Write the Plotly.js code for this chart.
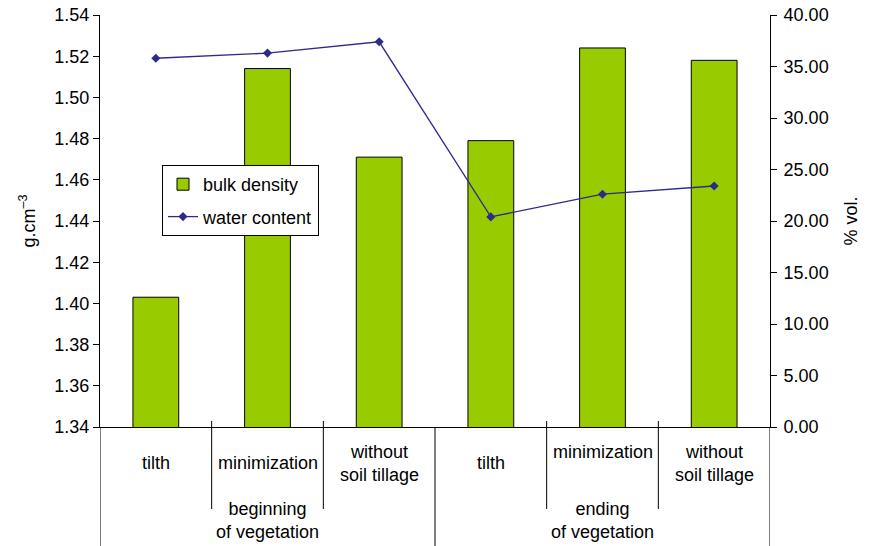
<!DOCTYPE html>
<html><head><meta charset="utf-8">
<script src="https://cdn.plot.ly/plotly-3.0.1.min.js"></script>
<style>html,body{margin:0;padding:0;background:#fff}#c{width:870px;height:546px}</style>
</head><body><div id="c"></div>
<script>
const groups = ["beginning<br>of vegetation", "ending<br>of vegetation"];
const categories = ["tilth", "minimization", "without<br>soil tillage", "tilth", "minimization", "without<br>soil tillage"];
const groupOf = [0, 0, 0, 1, 1, 1];
const bulkDensity = [1.403, 1.514, 1.471, 1.479, 1.524, 1.518];
const waterContent = [35.8, 36.3, 37.4, 20.4, 22.6, 23.4];
const leftTicks = [1.34, 1.36, 1.38, 1.40, 1.42, 1.44, 1.46, 1.48, 1.50, 1.52, 1.54];
const rightTicks = [0, 5, 10, 15, 20, 25, 30, 35, 40];

const idx = categories.map((_, i) => i);
const FONT = "Liberation Sans, Arial, sans-serif";
const FS = 18;
const PH = 412;
const py = px => (427 - px) / PH;

const traces = [
  {type: "bar", x: idx, y: bulkDensity, name: "bulk density", width: 0.41,
   marker: {color: "#99CC00", line: {color: "#000", width: 1}}, yaxis: "y",
   legendgroup: "a", hoverinfo: "y"},
  {type: "scatter", mode: "lines+markers", x: idx, y: waterContent, name: "water content",
   line: {color: "#2E2A8C", width: 1.3}, marker: {symbol: "diamond", size: 7, color: "#2E2A8C"},
   yaxis: "y2", legendgroup: "b", hoverinfo: "y"}
];

const annotations = [];
const catY = [463, 463, 463, 463, 452, 463];
categories.forEach((c, i) => {
  annotations.push({x: i, y: py(catY[i]), xref: "x", yref: "paper", text: c, showarrow: false,
    font: {family: FONT, size: FS, color: "#000"}, xanchor: "center", yanchor: "middle"});
});
groups.forEach((g, gi) => {
  const members = idx.filter(i => groupOf[i] === gi);
  const cx = members.reduce((a, b) => a + b, 0) / members.length;
  annotations.push({x: cx, y: py(520), xref: "x", yref: "paper", text: g, showarrow: false,
    font: {family: FONT, size: FS, color: "#000"}, xanchor: "center", yanchor: "middle"});
});

const shapes = [];
for (let i = 0; i <= categories.length; i++) {
  const b = i - 0.5;
  const isGroup = (i === 0 || i === categories.length || groupOf[i] !== groupOf[i - 1]);
  shapes.push({type: "line", xref: "x", yref: "paper", x0: b, x1: b,
    y0: isGroup ? 0 : py(421), y1: isGroup ? py(546) : py(509),
    line: {color: "#000", width: 1}});
}

const layout = {
  width: 870, height: 546,
  margin: {l: 100, r: 100, t: 15, b: 119},
  paper_bgcolor: "#fff", plot_bgcolor: "#fff",
  font: {family: FONT, size: FS, color: "#000"},
  showlegend: true,
  legend: {x: (162 - 100) / 670, y: py(165), xanchor: "left", yanchor: "top",
    bordercolor: "#000", borderwidth: 1, bgcolor: "#fff",
    font: {family: FONT, size: FS, color: "#000"}, tracegroupgap: 6,
    itemwidth: 30},
  bargap: 0,
  xaxis: {range: [-0.5, categories.length - 0.5], showticklabels: false, ticks: "",
    showgrid: false, zeroline: false, showline: true, linecolor: "#000", linewidth: 1,
    fixedrange: true},
  yaxis: {range: [1.34, 1.54], tickvals: leftTicks, tickformat: ".2f", ticks: "outside",
    ticklen: 6, tickcolor: "#000", showline: true, linecolor: "#000", linewidth: 1,
    showgrid: false, zeroline: false, tickfont: {family: FONT, size: FS},
    title: {text: "g.cm<sup>–3</sup>", font: {family: FONT, size: FS}, standoff: 14}},
  yaxis2: {range: [0, 40], tickvals: rightTicks, tickformat: ".2f", overlaying: "y", side: "right",
    ticks: "outside", ticklen: 6, tickcolor: "#000", showline: true, linecolor: "#000", linewidth: 1,
    showgrid: false, zeroline: false, tickfont: {family: FONT, size: FS}, ticklabelstandoff: 3,
    title: {text: "% vol.", font: {family: FONT, size: FS}, standoff: 16}},
  annotations: annotations,
  shapes: shapes
};
Plotly.newPlot("c", traces, layout, {displayModeBar: false, staticPlot: true});
</script></body></html>
